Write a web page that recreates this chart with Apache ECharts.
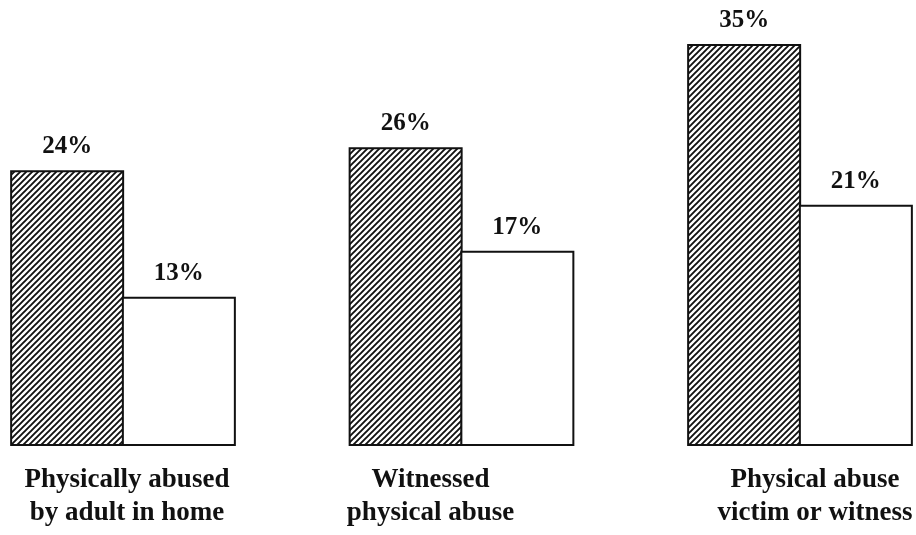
<!DOCTYPE html>
<html>
<head>
<meta charset="utf-8">
<script src="https://cdn.jsdelivr.net/npm/echarts@6/dist/echarts.min.js"></script>
<style>
  html, body { margin: 0; padding: 0; background: #fff; }
  #chart { width: 916px; height: 535px; }
</style>
</head>
<body>
<div id="chart"></div>
<script>
const categories = ['Physically abused\nby adult in home', 'Witnessed\nphysical abuse', 'Physical abuse\nvictim or witness'];
const hatchedValues = [24, 26, 35];
const plainValues = [13, 17, 21];
// labels in the original are not quite centred under each pair
const labelPadding = [[0, 0, 0, 8], [0, 62, 0, 0], [0, 0, 0, 30]];

// diagonal hatch pattern
const makeHatch = () => {
    const c = document.createElement('canvas');
    c.width = 6;
    c.height = 6;
    const ctx = c.getContext('2d');
    ctx.fillStyle = '#fff';
    ctx.fillRect(0, 0, 6, 6);
    ctx.strokeStyle = '#111';
    ctx.lineWidth = 1.9;
    ctx.beginPath();
    ctx.moveTo(-1, 7); ctx.lineTo(7, -1);
    ctx.moveTo(-1, 1); ctx.lineTo(1, -1);
    ctx.moveTo(5, 7); ctx.lineTo(7, 5);
    ctx.stroke();
    return c;
};

const chart = echarts.init(document.getElementById('chart'));
const labelStyle = {
    show: true,
    position: 'top',
    distance: 11,
    formatter: '{c}%',
    color: '#111',
    fontFamily: 'Liberation Serif',
    fontWeight: 'bold',
    fontSize: 25
};
const option = {
    animation: false,
    grid: {
        left: 123,
        right: 116,
        top: 44,
        bottom: 89
    },
    xAxis: {
        type: 'category',
        data: categories.map((name, i) => ({
            value: name,
            textStyle: { padding: labelPadding[i] }
        })),
        boundaryGap: false,
        axisLine: { show: false },
        axisTick: { show: false },
        axisLabel: {
            margin: 18,
            color: '#111',
            fontFamily: 'Liberation Serif',
            fontWeight: 'bold',
            fontSize: 27,
            lineHeight: 33
        }
    },
    yAxis: {
        type: 'value',
        min: 0,
        max: 35,
        show: false,
        splitLine: { show: false }
    },
    series: [{
        type: 'bar',
        data: hatchedValues,
        barWidth: 114,
        barGap: '-2%',
        clip: false,
        itemStyle: {
            color: { image: makeHatch(), repeat: 'repeat' },
            borderColor: '#111',
            borderWidth: 2
        },
        label: labelStyle
    }, {
        type: 'bar',
        data: plainValues,
        barWidth: 114,
        clip: false,
        itemStyle: {
            color: '#fff',
            borderColor: '#111',
            borderWidth: 2
        },
        label: labelStyle
    }]
};
chart.setOption(option);
</script>
</body>
</html>
